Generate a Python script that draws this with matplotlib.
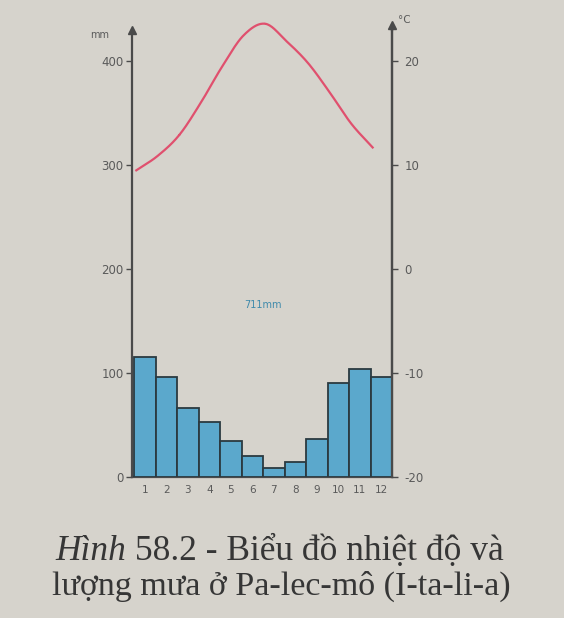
import numpy as np
import matplotlib
matplotlib.use("Agg")
import matplotlib.pyplot as plt

# ---- data ----
months = [1, 2, 3, 4, 5, 6, 7, 8, 9, 10, 11, 12]
month_labels = ["1", "2", "3", "4", "5", "6", "7", "8", "9", "10", "11", "12"]
rain_mm = [115, 96, 66, 53, 35, 20, 9, 14, 37, 90, 104, 96]
temp_c = [9.5, 10.9, 12.9, 16.0, 19.5, 22.5, 23.6, 21.9, 19.8, 17.0, 14.0, 11.7]
mm_ticks = [0, 100, 200, 300, 400]
c_ticks = [-20, -10, 0, 10, 20]
total_label = "711mm"
caption_italic = "Hình"
caption_rest1 = " 58.2 - Biểu đồ nhiệt độ và"
caption_line2 = "lượng mưa ở Pa-lec-mô (I-ta-li-a)"

BG = "#d6d3cc"
AX_COL = "#4a4a4a"
TXT = "#5a5a5a"

W, H = 564, 618
fig = plt.figure(figsize=(W / 100, H / 100), dpi=100, facecolor=BG)

left_px, right_px, bot_px, top_px = 132, 392, 477, 30
ax = fig.add_axes([left_px / W, 1 - bot_px / H, (right_px - left_px) / W, (bot_px - top_px) / H])
ax.set_facecolor("none")
ax.set_xlim(0.4, 12.5)
ax.set_ylim(0, 430)

ax.bar(months, rain_mm, width=1.0, color="#5ba8cc", edgecolor="#2b3a40", linewidth=1.3, zorder=3)

ax.spines["top"].set_visible(False)
for s in ["left", "right", "bottom"]:
    ax.spines[s].set_color(AX_COL)
    ax.spines[s].set_linewidth(1.6)

ax.set_yticks(mm_ticks)
ax.set_yticklabels([str(v) for v in mm_ticks], fontsize=8.5, color=TXT)
ax.tick_params(axis="y", direction="out", length=4, width=1, color=AX_COL, pad=2)
ax.set_xticks(months)
ax.set_xticklabels(month_labels, fontsize=7.5, color=TXT)
ax.tick_params(axis="x", length=0, pad=6)

ax2 = ax.twinx()
ax2.set_ylim(-20, 23)
ax2.set_xlim(0.4, 12.5)
for s in ["top", "left", "bottom"]:
    ax2.spines[s].set_visible(False)
ax2.spines["right"].set_color(AX_COL)
ax2.spines["right"].set_linewidth(1.6)
ax2.set_yticks(c_ticks)
ax2.set_yticklabels([str(v) for v in c_ticks], fontsize=8.5, color=TXT)
ax2.tick_params(axis="y", direction="out", length=4, width=1, color=AX_COL, pad=5)

# smooth temperature curve (Catmull-Rom through the monthly values)
tx = np.array(months, dtype=float) - 0.4
ty = np.array(temp_c, dtype=float)
px = np.concatenate([[2 * tx[0] - tx[1]], tx, [2 * tx[-1] - tx[-2]]])
py = np.concatenate([[2 * ty[0] - ty[1]], ty, [2 * ty[-1] - ty[-2]]])
cx, cy = [], []
for i in range(1, len(px) - 2):
    t = np.linspace(0, 1, 20)
    p0, p1, p2, p3 = px[i - 1], px[i], px[i + 1], px[i + 2]
    q0, q1, q2, q3 = py[i - 1], py[i], py[i + 1], py[i + 2]
    cx.append(0.5 * (2 * p1 + (-p0 + p2) * t + (2 * p0 - 5 * p1 + 4 * p2 - p3) * t ** 2 + (-p0 + 3 * p1 - 3 * p2 + p3) * t ** 3))
    cy.append(0.5 * (2 * q1 + (-q0 + q2) * t + (2 * q0 - 5 * q1 + 4 * q2 - q3) * t ** 2 + (-q0 + 3 * q1 - 3 * q2 + q3) * t ** 3))
ax2.plot(np.concatenate(cx), np.concatenate(cy), color="#e0506e", linewidth=1.6, clip_on=False, zorder=4)

# axis arrows
ax.plot([0.4], [430], marker="^", color=AX_COL, markersize=6, clip_on=False, zorder=5)
ax.plot([12.5], [435], marker="^", color=AX_COL, markersize=6, clip_on=False, zorder=5)
ax.plot([12.5, 12.5], [430, 435], color=AX_COL, linewidth=1.6, clip_on=False)

fig.text(100 / W, 1 - 35 / H, "mm", fontsize=7, color=TXT, ha="center", va="center")
fig.text(404 / W, 1 - 20 / H, "°C", fontsize=7.5, color=TXT, ha="center", va="center")

ax.text(6.5, 165, total_label, fontsize=7, color="#3f8aab", ha="center", va="center")

# caption
ser = "Liberation Serif"
t1 = fig.text(55 / W, 1 - 560 / H, caption_italic, fontsize=25.5, family=ser, style="italic",
              color="#363636", ha="left", va="baseline")
fig.canvas.draw()
bb = t1.get_window_extent(fig.canvas.get_renderer())
fig.text(bb.x1 / W, 1 - 560 / H, caption_rest1, fontsize=25.5, family=ser,
         color="#363636", ha="left", va="baseline")
fig.text(52 / W, 1 - 595 / H, caption_line2, fontsize=24.5, family=ser,
         color="#363636", ha="left", va="baseline")

fig.savefig("out.png", dpi=100, facecolor=BG)
